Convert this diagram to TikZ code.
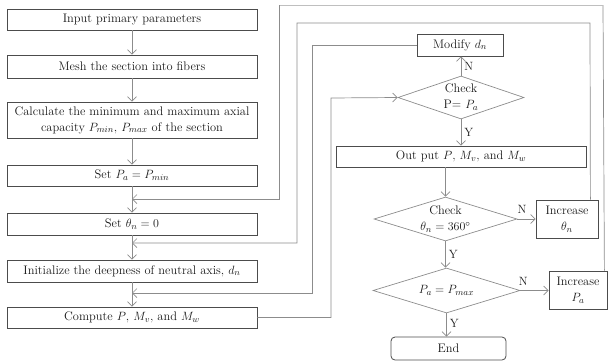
\documentclass[tikz,border=0pt]{standalone}
\usetikzlibrary{arrows.meta,shapes.geometric}
\begin{document}
\begin{tikzpicture}[x=1pt,y=-1pt,
  font=\fontsize{12.4}{16}\selectfont,
  box/.style={draw=black!70,line width=0.8pt,inner sep=0pt,align=center,text=black!90},
  dec/.style={draw=black!45,line width=0.7pt,shape=diamond,inner sep=0pt,align=center,aspect=3,text=black!90},
  link/.style={draw=black!45,line width=0.7pt},
  arr/.style={link,-{Straight Barb[length=4.5pt,width=9pt]}},
  lbl/.style={font=\fontsize{12}{14}\selectfont,text=black!90,inner sep=0pt}]
\useasboundingbox (0,0) rectangle (608,362);

% main column
\node[box,minimum width=250pt,minimum height=21pt] (b1) at (132,19.5) {Input primary parameters};
\node[box,minimum width=250pt,minimum height=23pt] (b2) at (132,66.5) {Mesh the section into fibers};
\node[box,minimum width=250pt,minimum height=36pt] (b3) at (132,120) {Calculate the minimum and maximum axial\\capacity $P_{min}$, $P_{max}$ of the section};
\node[box,minimum width=250pt,minimum height=21pt] (b4) at (132,175.5) {Set $P_a = P_{min}$};
\node[box,minimum width=250pt,minimum height=22pt] (b5) at (132,224) {Set $\theta_n = 0$};
\node[box,minimum width=250pt,minimum height=22pt] (b6) at (132,271) {Initialize the deepness of neutral axis, $d_n$};
\node[box,minimum width=250pt,minimum height=21pt] (b7) at (132,317.5) {Compute $P$, $M_v$, and $M_w$};

\draw[arr] (b1) -- (b2);
\draw[arr] (b2) -- (b3);
\draw[arr] (b3) -- (b4);
\draw[arr] (b4) -- (b5);
\draw[arr] (b5) -- (b6);
\draw[arr] (b6) -- (b7);

% right column
\node[box,minimum width=86pt,minimum height=22pt] (m) at (460,45) {Modify $d_n$};
\node[dec,minimum width=126pt,minimum height=43pt] (d1) at (461,97.5) {Check\\P= $P_a$};
\node[box,minimum width=250pt,minimum height=21pt] (o) at (461,156.5) {Out put $P$, $M_v$, and $M_w$};
\node[dec,minimum width=143pt,minimum height=44pt] (d2) at (445.5,219) {Check\\$\theta_n = 360^\circ$};
\node[box,minimum width=62pt,minimum height=38pt] (it) at (567,219) {Increase\\$\theta_n$};
\node[dec,minimum width=147pt,minimum height=45pt] (d3) at (446.5,290.5) {$P_a = P_{max}$};
\node[box,minimum width=58pt,minimum height=38pt] (ip) at (578,290) {Increase\\$P_a$};
\node[box,rounded corners=4pt,minimum width=115pt,minimum height=23pt] (e) at (448.5,348.5) {End};

\draw[arr] (d1.north) -- (d1.north |- m.south) node[lbl,pos=0.5,right=3pt] {N};
\draw[arr] (d1.south) -- (d1.south |- o.north) node[lbl,pos=0.5,right=3pt] {Y};
\draw[arr] (o.south -| d2.north) -- (d2.north);
\draw[arr] (d2.east) -- (it.west) node[lbl,pos=0.25,above=5pt] {N};
\draw[arr] (d2.south) -- (d2.south |- d3.north) node[lbl,pos=0.5,right=3pt] {Y};
\draw[arr] (d3.east) -- (d3.east -| ip.west) node[lbl,pos=0.1,above=5pt] {N};
\draw[arr] (d3.south) -- (d3.south |- e.north) node[lbl,pos=0.45,right=3pt] {Y};

% loop-back paths
\coordinate (cU) at (331,98);
\draw[arr] (b7.east) -| (cU) -- (d1.west);

\coordinate (mL) at (312,293);
\draw[arr] (m.west) -| (mL) -- (mL -| b6.south);

\coordinate (tA) at (590,23);
\coordinate (tB) at (297,243);
\draw[arr] ([xshift=-8pt]it.north east) -- (tA) -| (tB) -- (tB -| b5.south);

\coordinate (pA) at (603,5);
\coordinate (pB) at (279,199);
\draw[link] ([xshift=-3pt]ip.north east) -- (pA);
\draw[link,draw=black!25] (pA) -- (pA -| pB);
\draw[arr] (pA -| pB) -- (pB) -- (pB -| b4.south);
\end{tikzpicture}
\end{document}
